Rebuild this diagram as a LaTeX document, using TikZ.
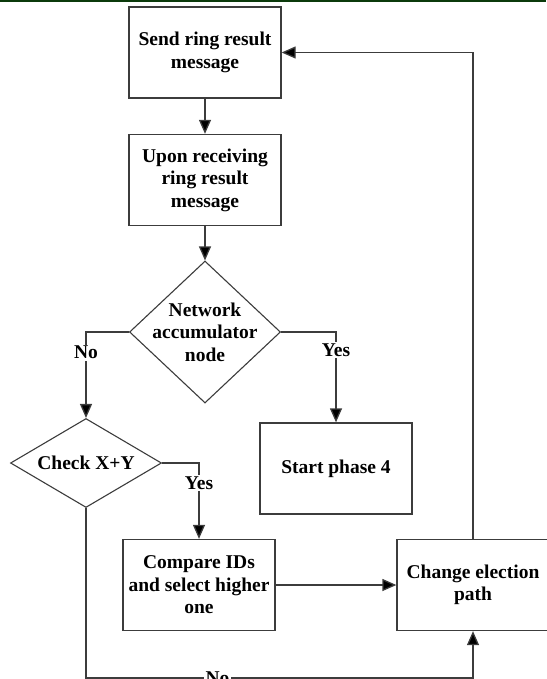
\documentclass[tikz,border=0pt]{standalone}
\usepackage{fontspec}
\setmainfont{Liberation Serif}
\usetikzlibrary{shapes.geometric,arrows.meta,calc}
\definecolor{linegray}{HTML}{3C3C3C}
\definecolor{topbar}{HTML}{0B3A0B}
\begin{document}
\begin{tikzpicture}[x=1pt,y=-1pt,
  every node/.style={font=\fontsize{19.5}{22.5}\selectfont\bfseries},
  procbox/.style={draw=linegray, line width=1.3pt, minimum width=152pt, minimum height=91pt,
                  align=center, inner sep=0pt, fill=white},
  decbox/.style={draw=linegray, line width=1.1pt, shape=diamond, inner sep=0pt, fill=white},
  dectext/.style={align=center, inner sep=0pt},
  flow/.style={draw=linegray, line width=1.3pt, -{Triangle[length=14pt,width=12pt,fill=black]}},
  lbl/.style={fill=white, inner sep=1.5pt}]
  % page frame
  \useasboundingbox (0,0) rectangle (546,679);
  \fill[topbar] (0,0) rectangle (546,2.5);

  % process boxes
  \node[procbox] (b1) at (205,52.5) {Send ring result\\message};
  \node[procbox] (b2) at (205,180) {Upon receiving\\ring result\\message};
  \node[procbox] (sp) at (336,468.5) {Start phase 4};
  \node[procbox] (b3) at (199,585) {Compare IDs\\and select higher\\one};
  \node[procbox] (b4) at (473,585) {Change election\\path};

  % decisions
  \node[decbox, minimum width=151pt, minimum height=142pt] (d1) at (205,332) {};
  \node[dectext] (d1t) at (d1) {Network\\accumulator\\node};
  \node[decbox, minimum width=151pt, minimum height=89pt] (d2) at (86,463) {};
  \node[dectext] (d2t) at (d2) {Check X+Y};

  % connectors
  \draw[flow] (b1) -- (b2);
  \draw[flow] (b2) -- (d1);
  \draw[flow] (d1.west) -| node[lbl,pos=0.62]{No} (d2.north);
  \draw[flow] (d1.east) -| node[lbl,pos=0.6]{Yes} (sp.north);
  \draw[flow] (d2.east) -| node[lbl,pos=0.63]{Yes} (b3.north);
  \draw[flow] (b3) -- (b4);
  \draw[flow] (b4.north) |- (b1.east);
  \coordinate (lowL) at (86,678);
  \draw[flow] (d2.south) -- (lowL) -| node[lbl,pos=0.17]{No} (b4.south);
\end{tikzpicture}
\end{document}
